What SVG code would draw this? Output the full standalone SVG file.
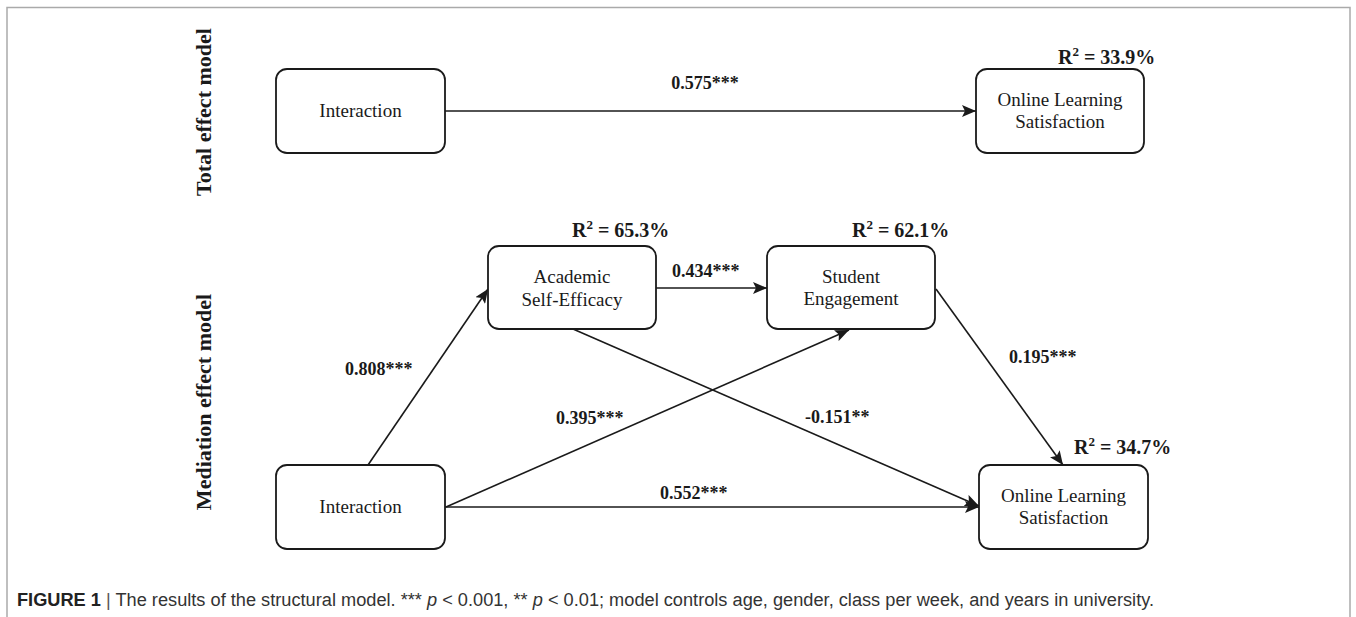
<svg xmlns="http://www.w3.org/2000/svg" width="1356" height="617" viewBox="0 0 1356 617">
<style>
.box{fill:#fff;stroke:#1a1a1a;stroke-width:1.8}
.nt{font-family:"Liberation Serif","Times New Roman",serif;font-size:19px;fill:#1a1a1a;text-anchor:middle}
.lab{font-family:"Liberation Serif","Times New Roman",serif;font-size:18px;font-weight:bold;fill:#1a1a1a}
.r2{font-family:"Liberation Serif","Times New Roman",serif;font-size:20px;font-weight:bold;fill:#1a1a1a}
.side{font-family:"Liberation Serif","Times New Roman",serif;font-size:22px;font-weight:bold;fill:#1a1a1a;text-anchor:middle}
.con{stroke:#1a1a1a;stroke-width:1.6;fill:none;marker-end:url(#arr)}
.cap{font-family:"Liberation Sans",Arial,sans-serif;font-size:18px;fill:#333}
</style>
<defs>
<marker id="arr" markerUnits="userSpaceOnUse" markerWidth="15" markerHeight="12" refX="14" refY="6" orient="auto">
<path d="M0,0 L14,6 L0,12 L3,6 z" fill="#1a1a1a"/>
</marker>
</defs>
<path d="M7,617 V7.5 H1350 V617" fill="none" stroke="#aaa" stroke-width="1.5"/>
<g id="side-labels">
<text class="side" transform="translate(211,112) rotate(-90)">Total effect model</text>
<text class="side" transform="translate(211,402) rotate(-90)">Mediation effect model</text>
</g>
<g id="connectors">
<line class="con" x1="445" y1="111" x2="976" y2="111"/>
<line class="con" x1="368" y1="465" x2="488" y2="289"/>
<line class="con" x1="656" y1="288" x2="767" y2="288"/>
<line class="con" x1="446" y1="507" x2="849" y2="330"/>
<line class="con" x1="573" y1="329" x2="979" y2="506"/>
<line class="con" x1="936" y1="289" x2="1063" y2="465"/>
<line class="con" x1="445" y1="507" x2="979" y2="507"/>
</g>
<g id="edge-labels">
<text class="lab" x="705" y="89" text-anchor="middle">0.575***</text>
<text class="lab" x="345" y="375">0.808***</text>
<text class="lab" x="672" y="277">0.434***</text>
<text class="lab" x="556" y="424">0.395***</text>
<text class="lab" x="805" y="423">-0.151**</text>
<text class="lab" x="1009" y="363">0.195***</text>
<text class="lab" x="660" y="499">0.552***</text>
</g>
<g id="node-interaction-total">
<rect class="box" x="276" y="69" width="169" height="84" rx="11"/>
<text class="nt" x="360.5" y="117">Interaction</text>
</g>
<g id="node-satisfaction-total">
<rect class="box" x="976" y="69" width="168" height="84" rx="11"/>
<text class="nt" x="1060" y="106">Online Learning</text>
<text class="nt" x="1060" y="128">Satisfaction</text>
<text class="r2" x="1058" y="64">R<tspan font-size="13" dy="-8">2</tspan><tspan dy="8"> = 33.9%</tspan></text>
</g>
<g id="node-self-efficacy">
<rect class="box" x="488" y="246" width="168" height="83" rx="11"/>
<text class="nt" x="572" y="283">Academic</text>
<text class="nt" x="572" y="306">Self-Efficacy</text>
<text class="r2" x="572" y="237">R<tspan font-size="13" dy="-8">2</tspan><tspan dy="8"> = 65.3%</tspan></text>
</g>
<g id="node-engagement">
<rect class="box" x="767" y="246" width="168" height="83" rx="11"/>
<text class="nt" x="851" y="283">Student</text>
<text class="nt" x="851" y="305">Engagement</text>
<text class="r2" x="852" y="237">R<tspan font-size="13" dy="-8">2</tspan><tspan dy="8"> = 62.1%</tspan></text>
</g>
<g id="node-interaction-med">
<rect class="box" x="276" y="465" width="169" height="84" rx="11"/>
<text class="nt" x="360.5" y="513">Interaction</text>
</g>
<g id="node-satisfaction-med">
<rect class="box" x="979" y="465" width="169" height="84" rx="11"/>
<text class="nt" x="1063.5" y="502">Online Learning</text>
<text class="nt" x="1063.5" y="524">Satisfaction</text>
<text class="r2" x="1074" y="454">R<tspan font-size="13" dy="-8">2</tspan><tspan dy="8"> = 34.7%</tspan></text>
</g>
<g id="caption">
<text class="cap" x="17" y="606" textLength="1137" lengthAdjust="spacingAndGlyphs"><tspan font-weight="bold" fill="#222">FIGURE 1</tspan><tspan fill="#555"> | </tspan>The results of the structural model. *** <tspan font-style="italic">p</tspan> &lt; 0.001, ** <tspan font-style="italic">p</tspan> &lt; 0.01; model controls age, gender, class per week, and years in university.</text>
</g>
</svg>
